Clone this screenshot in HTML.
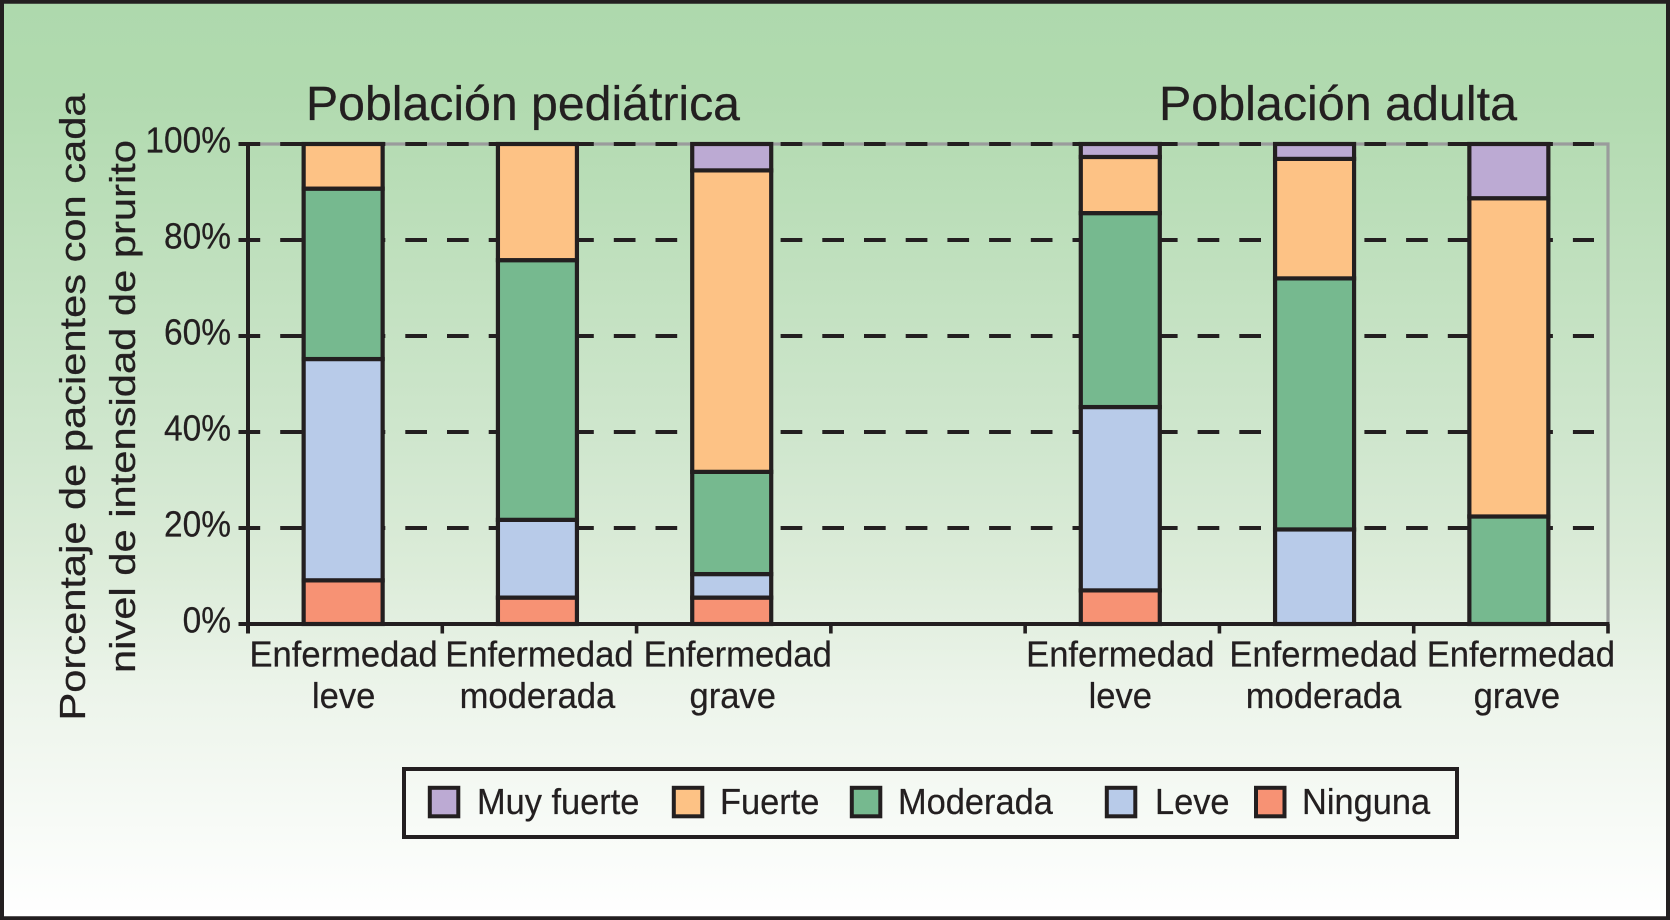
<!DOCTYPE html>
<html lang="es">
<head>
<meta charset="utf-8">
<title>Intensidad de prurito por gravedad de la enfermedad</title>
<style>
html,body{margin:0;padding:0;background:#fff;}
svg{display:block;}
text{font-family:"Liberation Sans",Arial,sans-serif;fill:#231f20;stroke:#231f20;stroke-width:0.25px;}
</style>
</head>
<body>
<svg id="chart" xmlns="http://www.w3.org/2000/svg" width="1670" height="920" viewBox="0 0 1670 920">
  <defs>
    <linearGradient id="bg" x1="0" y1="0" x2="0" y2="1">
      <stop offset="0" stop-color="#aed9ad"/>
      <stop offset="0.1" stop-color="#b1daaf"/>
      <stop offset="0.5" stop-color="#d1e7cf"/>
      <stop offset="0.62" stop-color="#dcecd9"/>
      <stop offset="0.75" stop-color="#ecf4ea"/>
      <stop offset="1" stop-color="#ffffff"/>
    </linearGradient>
  </defs>
  <rect x="2" y="1.75" width="1666" height="916.5" fill="url(#bg)" stroke="#231f20" stroke-width="4"/>
  <text x="306" y="120" font-size="48.5" textLength="434" lengthAdjust="spacingAndGlyphs">Población pediátrica</text>
  <text x="1159" y="120" font-size="48.5" textLength="358" lengthAdjust="spacingAndGlyphs">Población adulta</text>
  <text transform="translate(85,407) rotate(-90)" text-anchor="middle" font-size="36.5" textLength="627" lengthAdjust="spacingAndGlyphs">Porcentaje de pacientes con cada</text>
  <text transform="translate(135,406.5) rotate(-90)" text-anchor="middle" font-size="36.5" textLength="533" lengthAdjust="spacingAndGlyphs">nivel de intensidad de prurito</text>
  <g id="grid"></g>
  <g id="bars"></g>
  <g id="axes"></g>
  <g id="legend"></g>
</svg>
<script>
// ----- data -----
const categories = [
  ['Enfermedad', 'leve'],
  ['Enfermedad', 'moderada'],
  ['Enfermedad', 'grave'],
  ['', ''],
  ['Enfermedad', 'leve'],
  ['Enfermedad', 'moderada'],
  ['Enfermedad', 'grave']
];
const ninguna   = [9.1,  5.5,  5.5,  0, 7.0,  0,    0];
const leve      = [46.1, 16.2, 4.9,  0, 38.2, 19.7, 0];
const moderada  = [35.5, 54.1, 21.3, 0, 40.4, 52.3, 22.4];
const fuerte    = [9.3,  24.2, 62.8, 0, 11.7, 24.9, 66.3];
const muyFuerte = [0,    0,    5.5,  0, 2.7,  3.1,  11.3];
const yTicks = [0, 20, 40, 60, 80, 100];
const seriesNames = ['Ninguna', 'Leve', 'Moderada', 'Fuerte', 'Muy fuerte'];

// ----- layout -----
const NS = 'http://www.w3.org/2000/svg';
const INK = '#231f20';
const plot = { left: 248, right: 1608, top: 144, bottom: 624 };
const seriesValues = [ninguna, leve, moderada, fuerte, muyFuerte];
const seriesColors = ['#f79274', '#b8cbe9', '#76b98f', '#fdc285', '#bcaad3'];
const labelNudge = [-1.5, 0, 4, 0, -2, 7, 10];
const secondLineNudge = [0, -2, -5, 0, 0, 0, -4];
const barWidth = 79;

function yScale(v) {
  return plot.bottom - (v / 100) * (plot.bottom - plot.top);
}
function bandWidth() {
  return (plot.right - plot.left) / categories.length;
}
function xBand(i) {
  return plot.left + i * bandWidth();
}
function xCenter(i) {
  return xBand(i) + bandWidth() / 2;
}
function make(tag, attrs, parent) {
  const el = document.createElementNS(NS, tag);
  for (const k in attrs) el.setAttribute(k, attrs[k]);
  parent.appendChild(el);
  return el;
}
function slug(s) {
  return s.toLowerCase().replace(/\s+/g, '-');
}
function condense(el, factor) {
  el.setAttribute('textLength', el.getComputedTextLength() * factor);
  el.setAttribute('lengthAdjust', 'spacingAndGlyphs');
}

const grid = document.getElementById('grid');
const bars = document.getElementById('bars');
const axes = document.getElementById('axes');
const legend = document.getElementById('legend');

// plot frame (grey top and right edges)
const frame = make('path', {
  d: 'M' + plot.left + ' ' + plot.top + 'H' + plot.right + 'V' + plot.bottom,
  fill: 'none', stroke: '#9a9c9c', 'stroke-width': 3.2
}, grid);



// dashed gridlines and y tick labels
yTicks.forEach(function (t) {
  if (t > 0) {
    const line = make('line', {
      x1: 238.5, x2: 1594, y1: yScale(t), y2: yScale(t),
      stroke: INK, 'stroke-width': 4, 'stroke-dasharray': '21.7 20'
    }, grid);
    
    
  }
  const label = make('text', {
    x: 231, y: yScale(t) + 8.6, 'text-anchor': 'end', 'font-size': 35.8
  }, axes);
  
  
  label.textContent = t + '%';
  condense(label, 0.935);
});

// stacked bars
categories.forEach(function (cat, i) {
  let cumulative = 0;
  seriesValues.forEach(function (values, s) {
    const v = values[i];
    if (v > 0) {
      const yTop = yScale(cumulative + v);
      const yBottom = yScale(cumulative);
      const seg = make('rect', {
        x: xCenter(i) - 2 - barWidth / 2, y: yTop,
        width: barWidth, height: yBottom - yTop,
        fill: seriesColors[s], stroke: INK, 'stroke-width': 4.2
      }, bars);
      
      
    }
    cumulative += v;
  });
});

// axes
const yAxis = make('line', {
  x1: plot.left, x2: plot.left, y1: plot.top - 2, y2: plot.bottom + 9.5,
  stroke: INK, 'stroke-width': 4
}, axes);



const xAxis = make('line', {
  x1: 238.5, x2: plot.right + 1.5, y1: plot.bottom, y2: plot.bottom,
  stroke: INK, 'stroke-width': 4
}, axes);



for (let i = 1; i <= categories.length; i++) {
  const tick = make('line', {
    x1: xBand(i), x2: xBand(i), y1: plot.bottom, y2: plot.bottom + 9.5,
    stroke: INK, 'stroke-width': 3.6
  }, axes);
  
  
}

categories.forEach(function (cat, i) {
  if (!cat[0]) return;
  cat.forEach(function (lineText, l) {
    const label = make('text', {
      x: xCenter(i) + labelNudge[i] + (l === 1 ? secondLineNudge[i] : 0), y: l === 0 ? 666.5 : 708,
      'text-anchor': 'middle', 'font-size': 36.2
    }, axes);
    
    
    label.textContent = lineText;
    condense(label, 0.955);
  });
});

// legend
const legendBox = make('rect', {
  x: 404, y: 769, width: 1053, height: 68,
  fill: 'none', stroke: INK, 'stroke-width': 4
}, legend);



const legendOrder = [4, 3, 2, 1, 0];
const legendSwatchX = [429.8, 673.8, 851.8, 1106.8, 1256];
const legendTextX = [477, 720, 898, 1155, 1302];
legendOrder.forEach(function (s, k) {
  const swatch = make('rect', {
    x: legendSwatchX[k], y: 787.8, width: 28.5, height: 28.5,
    fill: seriesColors[s], stroke: INK, 'stroke-width': 4
  }, legend);
  
  
  const label = make('text', {
    x: legendTextX[k], y: 814, 'font-size': 36
  }, legend);
  
  
  label.textContent = seriesNames[s];
  condense(label, 0.955);
});
</script>
</body>
</html>
